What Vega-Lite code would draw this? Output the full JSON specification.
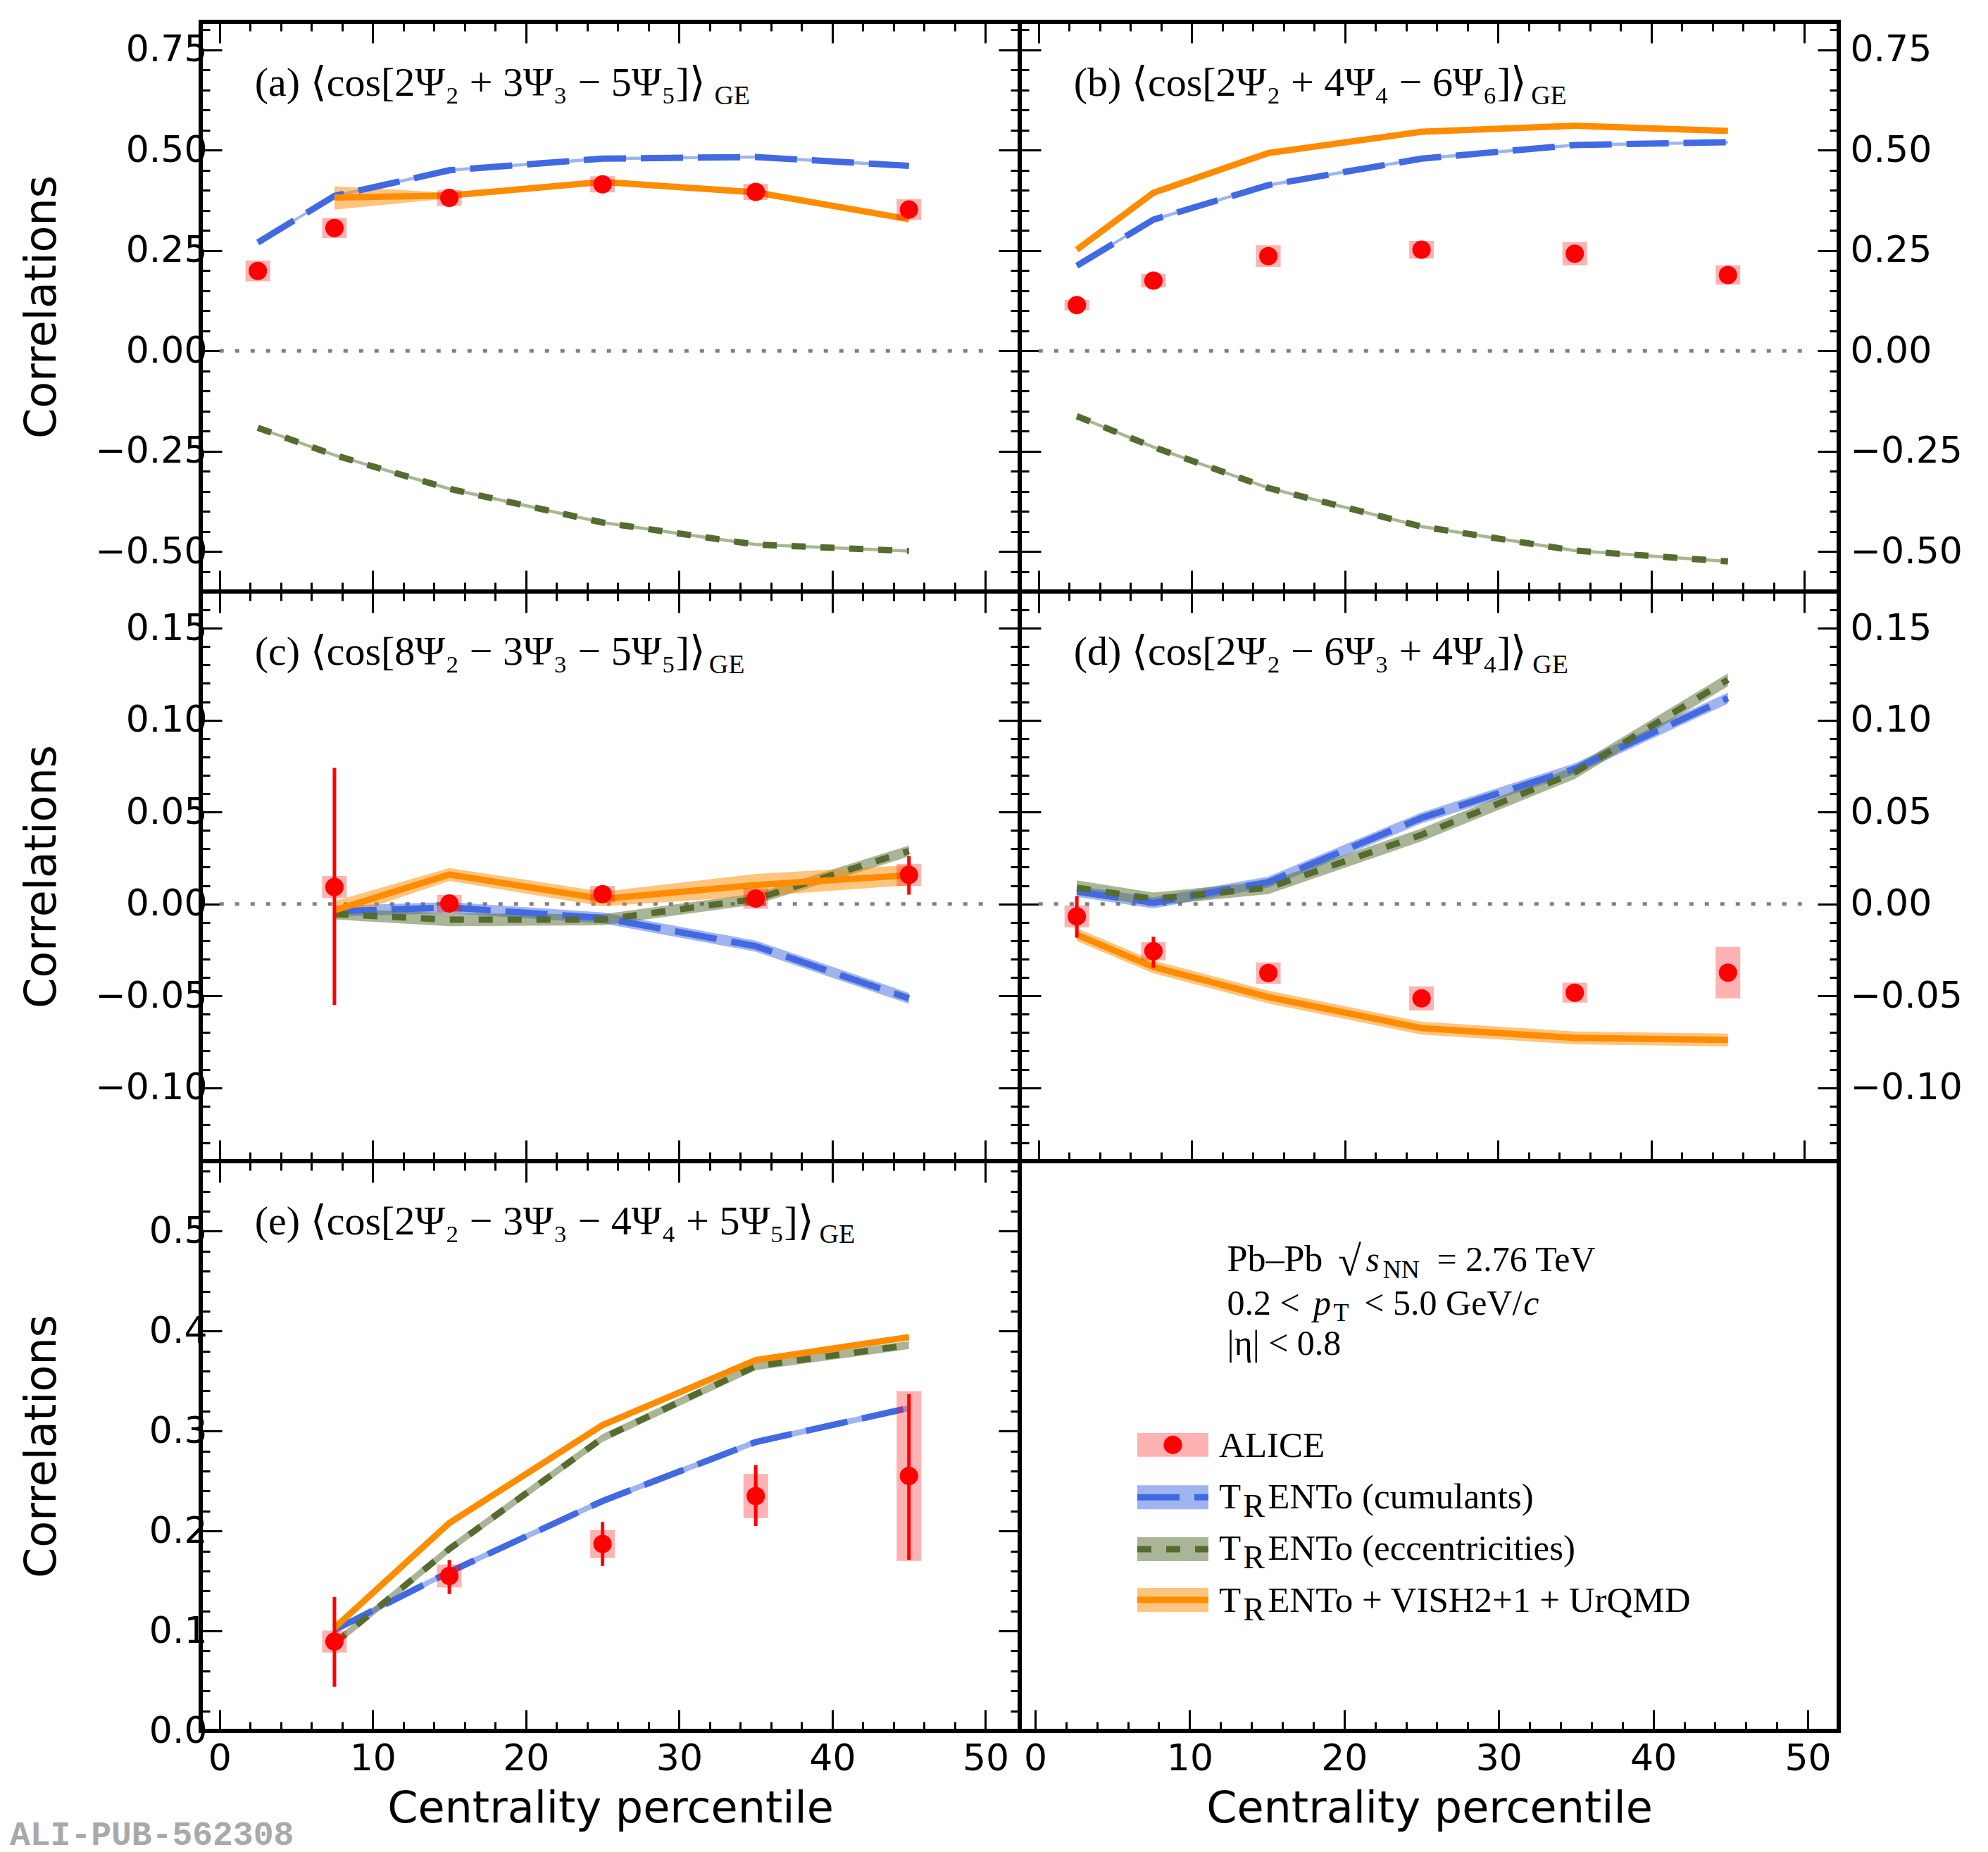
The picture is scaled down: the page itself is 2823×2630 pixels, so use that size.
{
  "$schema": "https://vega.github.io/schema/vega-lite/v6.json",
  "background": "white",
  "padding": {"left": 14, "top": 26, "right": 5, "bottom": 5},
  "title": {"text": "ALI-PUB-562308", "orient": "bottom", "anchor": "start", "font": "Liberation Mono", "fontWeight": "bold", "fontSize": 48, "color": "#a9a9a9", "offset": -20, "dx": -11},
  "datasets": {
    "models": [
      {"p": "a", "m": "cum", "x": 2.5, "y": 0.270, "lo": 0.266, "hi": 0.274},
      {"p": "a", "m": "cum", "x": 7.5, "y": 0.386, "lo": 0.382, "hi": 0.390},
      {"p": "a", "m": "cum", "x": 15, "y": 0.450, "lo": 0.446, "hi": 0.454},
      {"p": "a", "m": "cum", "x": 25, "y": 0.479, "lo": 0.475, "hi": 0.483},
      {"p": "a", "m": "cum", "x": 35, "y": 0.483, "lo": 0.479, "hi": 0.487},
      {"p": "a", "m": "cum", "x": 45, "y": 0.461, "lo": 0.457, "hi": 0.465},
      {"p": "a", "m": "ecc", "x": 2.5, "y": -0.192, "lo": -0.196, "hi": -0.188},
      {"p": "a", "m": "ecc", "x": 7.5, "y": -0.260, "lo": -0.264, "hi": -0.256},
      {"p": "a", "m": "ecc", "x": 15, "y": -0.344, "lo": -0.348, "hi": -0.340},
      {"p": "a", "m": "ecc", "x": 25, "y": -0.428, "lo": -0.432, "hi": -0.424},
      {"p": "a", "m": "ecc", "x": 35, "y": -0.483, "lo": -0.487, "hi": -0.479},
      {"p": "a", "m": "ecc", "x": 45, "y": -0.499, "lo": -0.503, "hi": -0.495},
      {"p": "a", "m": "hyd", "x": 7.5, "y": 0.382, "lo": 0.352, "hi": 0.410},
      {"p": "a", "m": "hyd", "x": 15, "y": 0.387, "lo": 0.380, "hi": 0.394},
      {"p": "a", "m": "hyd", "x": 25, "y": 0.421, "lo": 0.416, "hi": 0.426},
      {"p": "a", "m": "hyd", "x": 35, "y": 0.395, "lo": 0.391, "hi": 0.399},
      {"p": "a", "m": "hyd", "x": 45, "y": 0.328, "lo": 0.323, "hi": 0.333},
      {"p": "b", "m": "cum", "x": 2.5, "y": 0.212, "lo": 0.208, "hi": 0.216},
      {"p": "b", "m": "cum", "x": 7.5, "y": 0.327, "lo": 0.323, "hi": 0.331},
      {"p": "b", "m": "cum", "x": 15, "y": 0.413, "lo": 0.409, "hi": 0.417},
      {"p": "b", "m": "cum", "x": 25, "y": 0.479, "lo": 0.475, "hi": 0.483},
      {"p": "b", "m": "cum", "x": 35, "y": 0.513, "lo": 0.509, "hi": 0.517},
      {"p": "b", "m": "cum", "x": 45, "y": 0.520, "lo": 0.516, "hi": 0.524},
      {"p": "b", "m": "ecc", "x": 2.5, "y": -0.163, "lo": -0.167, "hi": -0.159},
      {"p": "b", "m": "ecc", "x": 7.5, "y": -0.240, "lo": -0.244, "hi": -0.236},
      {"p": "b", "m": "ecc", "x": 15, "y": -0.342, "lo": -0.346, "hi": -0.338},
      {"p": "b", "m": "ecc", "x": 25, "y": -0.438, "lo": -0.442, "hi": -0.434},
      {"p": "b", "m": "ecc", "x": 35, "y": -0.498, "lo": -0.502, "hi": -0.494},
      {"p": "b", "m": "ecc", "x": 45, "y": -0.525, "lo": -0.529, "hi": -0.521},
      {"p": "b", "m": "hyd", "x": 2.5, "y": 0.252, "lo": 0.248, "hi": 0.256},
      {"p": "b", "m": "hyd", "x": 7.5, "y": 0.394, "lo": 0.390, "hi": 0.398},
      {"p": "b", "m": "hyd", "x": 15, "y": 0.493, "lo": 0.489, "hi": 0.497},
      {"p": "b", "m": "hyd", "x": 25, "y": 0.546, "lo": 0.542, "hi": 0.550},
      {"p": "b", "m": "hyd", "x": 35, "y": 0.561, "lo": 0.557, "hi": 0.565},
      {"p": "b", "m": "hyd", "x": 45, "y": 0.548, "lo": 0.544, "hi": 0.552},
      {"p": "c", "m": "cum", "x": 7.5, "y": -0.004, "lo": -0.007, "hi": -0.001},
      {"p": "c", "m": "cum", "x": 15, "y": -0.002, "lo": -0.005, "hi": 0.001},
      {"p": "c", "m": "cum", "x": 25, "y": -0.0076, "lo": -0.0106, "hi": -0.0046},
      {"p": "c", "m": "cum", "x": 35, "y": -0.023, "lo": -0.026, "hi": -0.020},
      {"p": "c", "m": "cum", "x": 45, "y": -0.0514, "lo": -0.0544, "hi": -0.0484},
      {"p": "c", "m": "ecc", "x": 7.5, "y": -0.0055, "lo": -0.0085, "hi": -0.0025},
      {"p": "c", "m": "ecc", "x": 15, "y": -0.0086, "lo": -0.0121, "hi": -0.0051},
      {"p": "c", "m": "ecc", "x": 25, "y": -0.0086, "lo": -0.0116, "hi": -0.0056},
      {"p": "c", "m": "ecc", "x": 35, "y": 0.0027, "lo": -0.0003, "hi": 0.0057},
      {"p": "c", "m": "ecc", "x": 45, "y": 0.0288, "lo": 0.0258, "hi": 0.0318},
      {"p": "c", "m": "hyd", "x": 7.5, "y": -0.0035, "lo": -0.0085, "hi": 0.0015},
      {"p": "c", "m": "hyd", "x": 15, "y": 0.016, "lo": 0.0125, "hi": 0.0195},
      {"p": "c", "m": "hyd", "x": 25, "y": 0.0027, "lo": -0.0013, "hi": 0.0067},
      {"p": "c", "m": "hyd", "x": 35, "y": 0.0103, "lo": 0.0043, "hi": 0.0163},
      {"p": "c", "m": "hyd", "x": 45, "y": 0.0156, "lo": 0.0101, "hi": 0.0211},
      {"p": "d", "m": "cum", "x": 2.5, "y": 0.0068, "lo": 0.0038, "hi": 0.0098},
      {"p": "d", "m": "cum", "x": 7.5, "y": 0.0006, "lo": -0.0024, "hi": 0.0036},
      {"p": "d", "m": "cum", "x": 15, "y": 0.0119, "lo": 0.0089, "hi": 0.0149},
      {"p": "d", "m": "cum", "x": 25, "y": 0.0468, "lo": 0.0438, "hi": 0.0498},
      {"p": "d", "m": "cum", "x": 35, "y": 0.0735, "lo": 0.0705, "hi": 0.0765},
      {"p": "d", "m": "cum", "x": 45, "y": 0.112, "lo": 0.109, "hi": 0.115},
      {"p": "d", "m": "ecc", "x": 2.5, "y": 0.0088, "lo": 0.0048, "hi": 0.0128},
      {"p": "d", "m": "ecc", "x": 7.5, "y": 0.0027, "lo": -0.0008, "hi": 0.0062},
      {"p": "d", "m": "ecc", "x": 15, "y": 0.0088, "lo": 0.0053, "hi": 0.0123},
      {"p": "d", "m": "ecc", "x": 25, "y": 0.0376, "lo": 0.0341, "hi": 0.0411},
      {"p": "d", "m": "ecc", "x": 35, "y": 0.0715, "lo": 0.068, "hi": 0.075},
      {"p": "d", "m": "ecc", "x": 45, "y": 0.122, "lo": 0.1185, "hi": 0.1255},
      {"p": "d", "m": "hyd", "x": 2.5, "y": -0.0168, "lo": -0.0203, "hi": -0.0133},
      {"p": "d", "m": "hyd", "x": 7.5, "y": -0.0343, "lo": -0.0378, "hi": -0.0308},
      {"p": "d", "m": "hyd", "x": 15, "y": -0.0507, "lo": -0.0542, "hi": -0.0472},
      {"p": "d", "m": "hyd", "x": 25, "y": -0.0676, "lo": -0.0711, "hi": -0.0641},
      {"p": "d", "m": "hyd", "x": 35, "y": -0.0729, "lo": -0.0764, "hi": -0.0694},
      {"p": "d", "m": "hyd", "x": 45, "y": -0.074, "lo": -0.0775, "hi": -0.0705},
      {"p": "e", "m": "cum", "x": 7.5, "y": 0.101, "lo": 0.098, "hi": 0.104},
      {"p": "e", "m": "cum", "x": 15, "y": 0.159, "lo": 0.156, "hi": 0.162},
      {"p": "e", "m": "cum", "x": 25, "y": 0.230, "lo": 0.227, "hi": 0.233},
      {"p": "e", "m": "cum", "x": 35, "y": 0.289, "lo": 0.286, "hi": 0.292},
      {"p": "e", "m": "cum", "x": 45, "y": 0.323, "lo": 0.320, "hi": 0.326},
      {"p": "e", "m": "ecc", "x": 7.5, "y": 0.0875, "lo": 0.0835, "hi": 0.0915},
      {"p": "e", "m": "ecc", "x": 15, "y": 0.182, "lo": 0.178, "hi": 0.186},
      {"p": "e", "m": "ecc", "x": 25, "y": 0.293, "lo": 0.289, "hi": 0.297},
      {"p": "e", "m": "ecc", "x": 35, "y": 0.365, "lo": 0.361, "hi": 0.369},
      {"p": "e", "m": "ecc", "x": 45, "y": 0.386, "lo": 0.382, "hi": 0.390},
      {"p": "e", "m": "hyd", "x": 7.5, "y": 0.103, "lo": 0.100, "hi": 0.106},
      {"p": "e", "m": "hyd", "x": 15, "y": 0.208, "lo": 0.205, "hi": 0.211},
      {"p": "e", "m": "hyd", "x": 25, "y": 0.306, "lo": 0.303, "hi": 0.309},
      {"p": "e", "m": "hyd", "x": 35, "y": 0.371, "lo": 0.368, "hi": 0.374},
      {"p": "e", "m": "hyd", "x": 45, "y": 0.394, "lo": 0.391, "hi": 0.397}
    ],
    "alice": [
      {"p": "a", "x": 2.5, "y": 0.199, "slo": 0.195, "shi": 0.203, "ylo": 0.173, "yhi": 0.225},
      {"p": "a", "x": 7.5, "y": 0.306, "slo": 0.302, "shi": 0.310, "ylo": 0.281, "yhi": 0.331},
      {"p": "a", "x": 15, "y": 0.381, "slo": 0.377, "shi": 0.385, "ylo": 0.361, "yhi": 0.401},
      {"p": "a", "x": 25, "y": 0.415, "slo": 0.411, "shi": 0.419, "ylo": 0.395, "yhi": 0.435},
      {"p": "a", "x": 35, "y": 0.396, "slo": 0.392, "shi": 0.400, "ylo": 0.376, "yhi": 0.416},
      {"p": "a", "x": 45, "y": 0.352, "slo": 0.348, "shi": 0.356, "ylo": 0.326, "yhi": 0.378},
      {"p": "b", "x": 2.5, "y": 0.114, "slo": 0.110, "shi": 0.118, "ylo": 0.101, "yhi": 0.127},
      {"p": "b", "x": 7.5, "y": 0.175, "slo": 0.171, "shi": 0.179, "ylo": 0.158, "yhi": 0.192},
      {"p": "b", "x": 15, "y": 0.236, "slo": 0.232, "shi": 0.240, "ylo": 0.209, "yhi": 0.263},
      {"p": "b", "x": 25, "y": 0.252, "slo": 0.248, "shi": 0.256, "ylo": 0.230, "yhi": 0.274},
      {"p": "b", "x": 35, "y": 0.242, "slo": 0.238, "shi": 0.246, "ylo": 0.213, "yhi": 0.271},
      {"p": "b", "x": 45, "y": 0.189, "slo": 0.185, "shi": 0.193, "ylo": 0.165, "yhi": 0.213},
      {"p": "c", "x": 7.5, "y": 0.0092, "slo": -0.055, "shi": 0.074, "ylo": 0.0032, "yhi": 0.0152},
      {"p": "c", "x": 15, "y": 0.0002, "slo": -0.002, "shi": 0.0024, "ylo": -0.0045, "yhi": 0.0049},
      {"p": "c", "x": 25, "y": 0.0053, "slo": 0.0031, "shi": 0.0075, "ylo": 0.0008, "yhi": 0.0098},
      {"p": "c", "x": 35, "y": 0.0029, "slo": 0.0007, "shi": 0.0051, "ylo": -0.0026, "yhi": 0.0084},
      {"p": "c", "x": 45, "y": 0.0158, "slo": 0.005, "shi": 0.026, "ylo": 0.0098, "yhi": 0.0218},
      {"p": "d", "x": 2.5, "y": -0.0068, "slo": -0.0183, "shi": 0.0043, "ylo": -0.0128, "yhi": -0.0008},
      {"p": "d", "x": 7.5, "y": -0.0257, "slo": -0.0347, "shi": -0.0179, "ylo": -0.0307, "yhi": -0.0207},
      {"p": "d", "x": 15, "y": -0.0376, "slo": -0.0396, "shi": -0.0356, "ylo": -0.0434, "yhi": -0.0318},
      {"p": "d", "x": 25, "y": -0.0514, "slo": -0.0534, "shi": -0.0494, "ylo": -0.0579, "yhi": -0.0449},
      {"p": "d", "x": 35, "y": -0.0483, "slo": -0.0503, "shi": -0.0463, "ylo": -0.0537, "yhi": -0.0429},
      {"p": "d", "x": 45, "y": -0.0374, "slo": -0.0394, "shi": -0.0354, "ylo": -0.0514, "yhi": -0.0234},
      {"p": "e", "x": 7.5, "y": 0.0894, "slo": 0.044, "shi": 0.134, "ylo": 0.0784, "yhi": 0.1004},
      {"p": "e", "x": 15, "y": 0.155, "slo": 0.137, "shi": 0.171, "ylo": 0.1435, "yhi": 0.1665},
      {"p": "e", "x": 25, "y": 0.187, "slo": 0.165, "shi": 0.209, "ylo": 0.173, "yhi": 0.201},
      {"p": "e", "x": 35, "y": 0.235, "slo": 0.205, "shi": 0.266, "ylo": 0.213, "yhi": 0.257},
      {"p": "e", "x": 45, "y": 0.255, "slo": 0.171, "shi": 0.337, "ylo": 0.17, "yhi": 0.34}
    ]
  },
  "columns": 2,
  "spacing": 0,
  "bounds": "flush",
  "concat": [
    {
      "width": 1163, "height": 809,
      "resolve": {"axis": {"x": "independent", "y": "independent"}},
      "layer": [
        {
          "data": {"values": [{}]},
          "mark": {"type": "rule", "color": "#808080", "strokeWidth": 5, "strokeDash": [6, 16]},
          "encoding": {
            "x": {"datum": 0, "type": "quantitative", "axis": null, "scale": {"domain": [-1, 52], "nice": false}},
            "x2": {"datum": 50},
            "y": {"datum": 0, "type": "quantitative", "axis": null, "scale": {"domain": [-0.6, 0.82], "nice": false}}
          }
        },
        {
          "data": {"name": "models"},
          "transform": [{"filter": "datum.p === 'a'"}],
          "mark": {"type": "area", "fillOpacity": 0.5},
          "encoding": {
            "x": {"field": "x", "type": "quantitative", "scale": {"domain": [-1, 52], "nice": false}, "axis": {"orient": "bottom", "values": [0, 10, 20, 30, 40, 50], "tickSize": -30, "labels": false, "title": null}},
            "y": {"field": "lo", "type": "quantitative", "scale": {"domain": [-0.6, 0.82], "nice": false}, "axis": {"orient": "left", "values": [-0.5, -0.25, 0, 0.25, 0.5, 0.75], "tickSize": -30, "labelPadding": 21, "format": ".2f", "title": "Correlations", "titleX": -207, "titleBaseline": "alphabetic"}},
            "y2": {"field": "hi"},
            "fill": {"field": "m", "type": "nominal", "scale": {"domain": ["cum", "ecc", "hyd"], "range": ["#4169e1", "#556b2f", "#ff8c00"]}, "legend": null}
          }
        },
        {
          "data": {"name": "models"},
          "transform": [{"filter": "datum.p === 'a'"}],
          "mark": {"type": "line", "strokeWidth": 9},
          "encoding": {
            "x": {"field": "x", "type": "quantitative", "axis": {"orient": "bottom", "values": [0, 2, 4, 6, 8, 10, 12, 14, 16, 18, 20, 22, 24, 26, 28, 30, 32, 34, 36, 38, 40, 42, 44, 46, 48, 50], "tickSize": -13, "labels": false, "title": null}},
            "y": {"field": "y", "type": "quantitative", "axis": {"orient": "left", "values": [-0.55, -0.5, -0.45, -0.4, -0.35, -0.3, -0.25, -0.2, -0.15, -0.1, -0.05, 0, 0.05, 0.1, 0.15, 0.2, 0.25, 0.3, 0.35, 0.4, 0.45, 0.5, 0.55, 0.6, 0.65, 0.7, 0.75, 0.8], "tickSize": -13, "labels": false, "title": null}},
            "stroke": {"field": "m", "type": "nominal", "scale": {"domain": ["cum", "ecc", "hyd"], "range": ["#4169e1", "#556b2f", "#ff8c00"]}, "legend": null},
            "strokeDash": {"field": "m", "type": "nominal", "scale": {"domain": ["cum", "ecc", "hyd"], "range": [[60, 21], [20, 21], [1, 0]]}, "legend": null}
          }
        },
        {
          "data": {"name": "alice"},
          "transform": [{"filter": "datum.p === 'a'"}],
          "mark": {"type": "bar", "width": 35, "color": "#ff0000", "opacity": 0.3},
          "encoding": {
            "x": {"field": "x", "type": "quantitative", "axis": {"orient": "top", "values": [0, 10, 20, 30, 40, 50], "tickSize": -30, "labels": false, "title": null}},
            "y": {"field": "ylo", "type": "quantitative", "axis": {"orient": "right", "values": [-0.5, -0.25, 0, 0.25, 0.5, 0.75], "tickSize": -30, "labels": false, "title": null}},
            "y2": {"field": "yhi"}
          }
        },
        {
          "data": {"name": "alice"},
          "transform": [{"filter": "datum.p === 'a'"}],
          "mark": {"type": "rule", "color": "#ff0000", "strokeWidth": 5},
          "encoding": {
            "x": {"field": "x", "type": "quantitative", "axis": {"orient": "top", "values": [0, 2, 4, 6, 8, 10, 12, 14, 16, 18, 20, 22, 24, 26, 28, 30, 32, 34, 36, 38, 40, 42, 44, 46, 48, 50], "tickSize": -13, "labels": false, "title": null}},
            "y": {"field": "slo", "type": "quantitative", "axis": {"orient": "right", "values": [-0.55, -0.5, -0.45, -0.4, -0.35, -0.3, -0.25, -0.2, -0.15, -0.1, -0.05, 0, 0.05, 0.1, 0.15, 0.2, 0.25, 0.3, 0.35, 0.4, 0.45, 0.5, 0.55, 0.6, 0.65, 0.7, 0.75, 0.8], "tickSize": -13, "labels": false, "title": null}},
            "y2": {"field": "shi"}
          }
        },
        {
          "data": {"name": "alice"},
          "transform": [{"filter": "datum.p === 'a'"}],
          "mark": {"type": "point", "shape": "circle", "filled": true, "size": 680, "color": "#ff0000", "opacity": 1},
          "encoding": {
            "x": {"field": "x", "type": "quantitative", "axis": null},
            "y": {"field": "y", "type": "quantitative", "axis": null}
          }
        },
        {
          "data": {"values": [{}]},
          "mark": {"type": "text", "text": "(a) ⟨cos[2Ψ₂ + 3Ψ₃ − 5Ψ₅]⟩", "font": "Liberation Serif", "fontSize": 58, "align": "left", "baseline": "alphabetic", "color": "black"},
          "encoding": {"x": {"datum": 2.3, "type": "quantitative", "axis": null}, "y": {"datum": 0.636, "type": "quantitative", "axis": null}}
        },
        {
          "data": {"values": [{}]},
          "mark": {"type": "text", "text": "GE", "font": "Liberation Serif", "fontSize": 38, "align": "left", "baseline": "alphabetic", "color": "black"},
          "encoding": {"x": {"datum": 32.3, "type": "quantitative", "axis": null}, "y": {"datum": 0.615, "type": "quantitative", "axis": null}}
        }
      ]
    },
    {
      "width": 1163, "height": 809,
      "resolve": {"axis": {"x": "independent", "y": "independent"}},
      "layer": [
        {
          "data": {"values": [{}]},
          "mark": {"type": "rule", "color": "#808080", "strokeWidth": 5, "strokeDash": [6, 16]},
          "encoding": {
            "x": {"datum": 0, "type": "quantitative", "axis": null, "scale": {"domain": [-1, 52], "nice": false}},
            "x2": {"datum": 50},
            "y": {"datum": 0, "type": "quantitative", "axis": null, "scale": {"domain": [-0.6, 0.82], "nice": false}}
          }
        },
        {
          "data": {"name": "models"},
          "transform": [{"filter": "datum.p === 'b'"}],
          "mark": {"type": "area", "fillOpacity": 0.5},
          "encoding": {
            "x": {"field": "x", "type": "quantitative", "scale": {"domain": [-1, 52], "nice": false}, "axis": {"orient": "bottom", "values": [0, 10, 20, 30, 40, 50], "tickSize": -30, "labels": false, "title": null}},
            "y": {"field": "lo", "type": "quantitative", "scale": {"domain": [-0.6, 0.82], "nice": false}, "axis": {"orient": "left", "values": [-0.5, -0.25, 0, 0.25, 0.5, 0.75], "tickSize": -30, "labels": false, "title": null}},
            "y2": {"field": "hi"},
            "fill": {"field": "m", "type": "nominal", "scale": {"domain": ["cum", "ecc", "hyd"], "range": ["#4169e1", "#556b2f", "#ff8c00"]}, "legend": null}
          }
        },
        {
          "data": {"name": "models"},
          "transform": [{"filter": "datum.p === 'b'"}],
          "mark": {"type": "line", "strokeWidth": 9},
          "encoding": {
            "x": {"field": "x", "type": "quantitative", "axis": {"orient": "bottom", "values": [0, 2, 4, 6, 8, 10, 12, 14, 16, 18, 20, 22, 24, 26, 28, 30, 32, 34, 36, 38, 40, 42, 44, 46, 48, 50], "tickSize": -13, "labels": false, "title": null}},
            "y": {"field": "y", "type": "quantitative", "axis": {"orient": "left", "values": [-0.55, -0.5, -0.45, -0.4, -0.35, -0.3, -0.25, -0.2, -0.15, -0.1, -0.05, 0, 0.05, 0.1, 0.15, 0.2, 0.25, 0.3, 0.35, 0.4, 0.45, 0.5, 0.55, 0.6, 0.65, 0.7, 0.75, 0.8], "tickSize": -13, "labels": false, "title": null}},
            "stroke": {"field": "m", "type": "nominal", "scale": {"domain": ["cum", "ecc", "hyd"], "range": ["#4169e1", "#556b2f", "#ff8c00"]}, "legend": null},
            "strokeDash": {"field": "m", "type": "nominal", "scale": {"domain": ["cum", "ecc", "hyd"], "range": [[60, 21], [20, 21], [1, 0]]}, "legend": null}
          }
        },
        {
          "data": {"name": "alice"},
          "transform": [{"filter": "datum.p === 'b'"}],
          "mark": {"type": "bar", "width": 35, "color": "#ff0000", "opacity": 0.3},
          "encoding": {
            "x": {"field": "x", "type": "quantitative", "axis": {"orient": "top", "values": [0, 10, 20, 30, 40, 50], "tickSize": -30, "labels": false, "title": null}},
            "y": {"field": "ylo", "type": "quantitative", "axis": {"orient": "right", "values": [-0.5, -0.25, 0, 0.25, 0.5, 0.75], "tickSize": -30, "labelPadding": 46, "format": ".2f", "title": null}},
            "y2": {"field": "yhi"}
          }
        },
        {
          "data": {"name": "alice"},
          "transform": [{"filter": "datum.p === 'b'"}],
          "mark": {"type": "rule", "color": "#ff0000", "strokeWidth": 5},
          "encoding": {
            "x": {"field": "x", "type": "quantitative", "axis": {"orient": "top", "values": [0, 2, 4, 6, 8, 10, 12, 14, 16, 18, 20, 22, 24, 26, 28, 30, 32, 34, 36, 38, 40, 42, 44, 46, 48, 50], "tickSize": -13, "labels": false, "title": null}},
            "y": {"field": "slo", "type": "quantitative", "axis": {"orient": "right", "values": [-0.55, -0.5, -0.45, -0.4, -0.35, -0.3, -0.25, -0.2, -0.15, -0.1, -0.05, 0, 0.05, 0.1, 0.15, 0.2, 0.25, 0.3, 0.35, 0.4, 0.45, 0.5, 0.55, 0.6, 0.65, 0.7, 0.75, 0.8], "tickSize": -13, "labels": false, "title": null}},
            "y2": {"field": "shi"}
          }
        },
        {
          "data": {"name": "alice"},
          "transform": [{"filter": "datum.p === 'b'"}],
          "mark": {"type": "point", "shape": "circle", "filled": true, "size": 680, "color": "#ff0000", "opacity": 1},
          "encoding": {
            "x": {"field": "x", "type": "quantitative", "axis": null},
            "y": {"field": "y", "type": "quantitative", "axis": null}
          }
        },
        {
          "data": {"values": [{}]},
          "mark": {"type": "text", "text": "(b) ⟨cos[2Ψ₂ + 4Ψ₄ − 6Ψ₆]⟩", "font": "Liberation Serif", "fontSize": 58, "align": "left", "baseline": "alphabetic", "color": "black"},
          "encoding": {"x": {"datum": 2.3, "type": "quantitative", "axis": null}, "y": {"datum": 0.636, "type": "quantitative", "axis": null}}
        },
        {
          "data": {"values": [{}]},
          "mark": {"type": "text", "text": "GE", "font": "Liberation Serif", "fontSize": 38, "align": "left", "baseline": "alphabetic", "color": "black"},
          "encoding": {"x": {"datum": 32.15, "type": "quantitative", "axis": null}, "y": {"datum": 0.615, "type": "quantitative", "axis": null}}
        }
      ]
    },
    {
      "width": 1163, "height": 809,
      "resolve": {"axis": {"x": "independent", "y": "independent"}},
      "layer": [
        {
          "data": {"values": [{}]},
          "mark": {"type": "rule", "color": "#808080", "strokeWidth": 5, "strokeDash": [6, 16]},
          "encoding": {
            "x": {"datum": 0, "type": "quantitative", "axis": null, "scale": {"domain": [-1, 52], "nice": false}},
            "x2": {"datum": 50},
            "y": {"datum": 0, "type": "quantitative", "axis": null, "scale": {"domain": [-0.14, 0.17], "nice": false}}
          }
        },
        {
          "data": {"name": "models"},
          "transform": [{"filter": "datum.p === 'c'"}],
          "mark": {"type": "area", "fillOpacity": 0.5},
          "encoding": {
            "x": {"field": "x", "type": "quantitative", "scale": {"domain": [-1, 52], "nice": false}, "axis": {"orient": "bottom", "values": [0, 10, 20, 30, 40, 50], "tickSize": -30, "labels": false, "title": null}},
            "y": {"field": "lo", "type": "quantitative", "scale": {"domain": [-0.14, 0.17], "nice": false}, "axis": {"orient": "left", "values": [-0.1, -0.05, 0, 0.05, 0.1, 0.15], "tickSize": -30, "labelPadding": 21, "format": ".2f", "title": "Correlations", "titleX": -207, "titleBaseline": "alphabetic"}},
            "y2": {"field": "hi"},
            "fill": {"field": "m", "type": "nominal", "scale": {"domain": ["cum", "ecc", "hyd"], "range": ["#4169e1", "#556b2f", "#ff8c00"]}, "legend": null}
          }
        },
        {
          "data": {"name": "models"},
          "transform": [{"filter": "datum.p === 'c'"}],
          "mark": {"type": "line", "strokeWidth": 9},
          "encoding": {
            "x": {"field": "x", "type": "quantitative", "axis": {"orient": "bottom", "values": [0, 2, 4, 6, 8, 10, 12, 14, 16, 18, 20, 22, 24, 26, 28, 30, 32, 34, 36, 38, 40, 42, 44, 46, 48, 50], "tickSize": -13, "labels": false, "title": null}},
            "y": {"field": "y", "type": "quantitative", "axis": {"orient": "left", "values": [-0.13, -0.12, -0.11, -0.1, -0.09, -0.08, -0.07, -0.06, -0.05, -0.04, -0.03, -0.02, -0.01, 0, 0.01, 0.02, 0.03, 0.04, 0.05, 0.06, 0.07, 0.08, 0.09, 0.1, 0.11, 0.12, 0.13, 0.14, 0.15, 0.16], "tickSize": -13, "labels": false, "title": null}},
            "stroke": {"field": "m", "type": "nominal", "scale": {"domain": ["cum", "ecc", "hyd"], "range": ["#4169e1", "#556b2f", "#ff8c00"]}, "legend": null},
            "strokeDash": {"field": "m", "type": "nominal", "scale": {"domain": ["cum", "ecc", "hyd"], "range": [[60, 21], [20, 21], [1, 0]]}, "legend": null}
          }
        },
        {
          "data": {"name": "alice"},
          "transform": [{"filter": "datum.p === 'c'"}],
          "mark": {"type": "bar", "width": 35, "color": "#ff0000", "opacity": 0.3},
          "encoding": {
            "x": {"field": "x", "type": "quantitative", "axis": {"orient": "top", "values": [0, 10, 20, 30, 40, 50], "tickSize": -30, "labels": false, "title": null}},
            "y": {"field": "ylo", "type": "quantitative", "axis": {"orient": "right", "values": [-0.1, -0.05, 0, 0.05, 0.1, 0.15], "tickSize": -30, "labels": false, "title": null}},
            "y2": {"field": "yhi"}
          }
        },
        {
          "data": {"name": "alice"},
          "transform": [{"filter": "datum.p === 'c'"}],
          "mark": {"type": "rule", "color": "#ff0000", "strokeWidth": 5},
          "encoding": {
            "x": {"field": "x", "type": "quantitative", "axis": {"orient": "top", "values": [0, 2, 4, 6, 8, 10, 12, 14, 16, 18, 20, 22, 24, 26, 28, 30, 32, 34, 36, 38, 40, 42, 44, 46, 48, 50], "tickSize": -13, "labels": false, "title": null}},
            "y": {"field": "slo", "type": "quantitative", "axis": {"orient": "right", "values": [-0.13, -0.12, -0.11, -0.1, -0.09, -0.08, -0.07, -0.06, -0.05, -0.04, -0.03, -0.02, -0.01, 0, 0.01, 0.02, 0.03, 0.04, 0.05, 0.06, 0.07, 0.08, 0.09, 0.1, 0.11, 0.12, 0.13, 0.14, 0.15, 0.16], "tickSize": -13, "labels": false, "title": null}},
            "y2": {"field": "shi"}
          }
        },
        {
          "data": {"name": "alice"},
          "transform": [{"filter": "datum.p === 'c'"}],
          "mark": {"type": "point", "shape": "circle", "filled": true, "size": 680, "color": "#ff0000", "opacity": 1},
          "encoding": {
            "x": {"field": "x", "type": "quantitative", "axis": null},
            "y": {"field": "y", "type": "quantitative", "axis": null}
          }
        },
        {
          "data": {"values": [{}]},
          "mark": {"type": "text", "text": "(c) ⟨cos[8Ψ₂ − 3Ψ₃ − 5Ψ₅]⟩", "font": "Liberation Serif", "fontSize": 58, "align": "left", "baseline": "alphabetic", "color": "black"},
          "encoding": {"x": {"datum": 2.3, "type": "quantitative", "axis": null}, "y": {"datum": 0.130, "type": "quantitative", "axis": null}}
        },
        {
          "data": {"values": [{}]},
          "mark": {"type": "text", "text": "GE", "font": "Liberation Serif", "fontSize": 38, "align": "left", "baseline": "alphabetic", "color": "black"},
          "encoding": {"x": {"datum": 31.95, "type": "quantitative", "axis": null}, "y": {"datum": 0.1254, "type": "quantitative", "axis": null}}
        }
      ]
    },
    {
      "width": 1163, "height": 809,
      "resolve": {"axis": {"x": "independent", "y": "independent"}},
      "layer": [
        {
          "data": {"values": [{}]},
          "mark": {"type": "rule", "color": "#808080", "strokeWidth": 5, "strokeDash": [6, 16]},
          "encoding": {
            "x": {"datum": 0, "type": "quantitative", "axis": null, "scale": {"domain": [-1, 52], "nice": false}},
            "x2": {"datum": 50},
            "y": {"datum": 0, "type": "quantitative", "axis": null, "scale": {"domain": [-0.14, 0.17], "nice": false}}
          }
        },
        {
          "data": {"name": "models"},
          "transform": [{"filter": "datum.p === 'd'"}],
          "mark": {"type": "area", "fillOpacity": 0.5},
          "encoding": {
            "x": {"field": "x", "type": "quantitative", "scale": {"domain": [-1, 52], "nice": false}, "axis": {"orient": "bottom", "values": [0, 10, 20, 30, 40, 50], "tickSize": -30, "labels": false, "title": null}},
            "y": {"field": "lo", "type": "quantitative", "scale": {"domain": [-0.14, 0.17], "nice": false}, "axis": {"orient": "left", "values": [-0.1, -0.05, 0, 0.05, 0.1, 0.15], "tickSize": -30, "labels": false, "title": null}},
            "y2": {"field": "hi"},
            "fill": {"field": "m", "type": "nominal", "scale": {"domain": ["cum", "ecc", "hyd"], "range": ["#4169e1", "#556b2f", "#ff8c00"]}, "legend": null}
          }
        },
        {
          "data": {"name": "models"},
          "transform": [{"filter": "datum.p === 'd'"}],
          "mark": {"type": "line", "strokeWidth": 9},
          "encoding": {
            "x": {"field": "x", "type": "quantitative", "axis": {"orient": "bottom", "values": [0, 2, 4, 6, 8, 10, 12, 14, 16, 18, 20, 22, 24, 26, 28, 30, 32, 34, 36, 38, 40, 42, 44, 46, 48, 50], "tickSize": -13, "labels": false, "title": null}},
            "y": {"field": "y", "type": "quantitative", "axis": {"orient": "left", "values": [-0.13, -0.12, -0.11, -0.1, -0.09, -0.08, -0.07, -0.06, -0.05, -0.04, -0.03, -0.02, -0.01, 0, 0.01, 0.02, 0.03, 0.04, 0.05, 0.06, 0.07, 0.08, 0.09, 0.1, 0.11, 0.12, 0.13, 0.14, 0.15, 0.16], "tickSize": -13, "labels": false, "title": null}},
            "stroke": {"field": "m", "type": "nominal", "scale": {"domain": ["cum", "ecc", "hyd"], "range": ["#4169e1", "#556b2f", "#ff8c00"]}, "legend": null},
            "strokeDash": {"field": "m", "type": "nominal", "scale": {"domain": ["cum", "ecc", "hyd"], "range": [[60, 21], [20, 21], [1, 0]]}, "legend": null}
          }
        },
        {
          "data": {"name": "alice"},
          "transform": [{"filter": "datum.p === 'd'"}],
          "mark": {"type": "bar", "width": 35, "color": "#ff0000", "opacity": 0.3},
          "encoding": {
            "x": {"field": "x", "type": "quantitative", "axis": {"orient": "top", "values": [0, 10, 20, 30, 40, 50], "tickSize": -30, "labels": false, "title": null}},
            "y": {"field": "ylo", "type": "quantitative", "axis": {"orient": "right", "values": [-0.1, -0.05, 0, 0.05, 0.1, 0.15], "tickSize": -30, "labelPadding": 46, "format": ".2f", "title": null}},
            "y2": {"field": "yhi"}
          }
        },
        {
          "data": {"name": "alice"},
          "transform": [{"filter": "datum.p === 'd'"}],
          "mark": {"type": "rule", "color": "#ff0000", "strokeWidth": 5},
          "encoding": {
            "x": {"field": "x", "type": "quantitative", "axis": {"orient": "top", "values": [0, 2, 4, 6, 8, 10, 12, 14, 16, 18, 20, 22, 24, 26, 28, 30, 32, 34, 36, 38, 40, 42, 44, 46, 48, 50], "tickSize": -13, "labels": false, "title": null}},
            "y": {"field": "slo", "type": "quantitative", "axis": {"orient": "right", "values": [-0.13, -0.12, -0.11, -0.1, -0.09, -0.08, -0.07, -0.06, -0.05, -0.04, -0.03, -0.02, -0.01, 0, 0.01, 0.02, 0.03, 0.04, 0.05, 0.06, 0.07, 0.08, 0.09, 0.1, 0.11, 0.12, 0.13, 0.14, 0.15, 0.16], "tickSize": -13, "labels": false, "title": null}},
            "y2": {"field": "shi"}
          }
        },
        {
          "data": {"name": "alice"},
          "transform": [{"filter": "datum.p === 'd'"}],
          "mark": {"type": "point", "shape": "circle", "filled": true, "size": 680, "color": "#ff0000", "opacity": 1},
          "encoding": {
            "x": {"field": "x", "type": "quantitative", "axis": null},
            "y": {"field": "y", "type": "quantitative", "axis": null}
          }
        },
        {
          "data": {"values": [{}]},
          "mark": {"type": "text", "text": "(d) ⟨cos[2Ψ₂ − 6Ψ₃ + 4Ψ₄]⟩", "font": "Liberation Serif", "fontSize": 58, "align": "left", "baseline": "alphabetic", "color": "black"},
          "encoding": {"x": {"datum": 2.3, "type": "quantitative", "axis": null}, "y": {"datum": 0.130, "type": "quantitative", "axis": null}}
        },
        {
          "data": {"values": [{}]},
          "mark": {"type": "text", "text": "GE", "font": "Liberation Serif", "fontSize": 38, "align": "left", "baseline": "alphabetic", "color": "black"},
          "encoding": {"x": {"datum": 32.25, "type": "quantitative", "axis": null}, "y": {"datum": 0.1254, "type": "quantitative", "axis": null}}
        }
      ]
    },
    {
      "width": 1163, "height": 809,
      "resolve": {"axis": {"x": "independent", "y": "independent"}},
      "layer": [
        {
          "data": {"name": "models"},
          "transform": [{"filter": "datum.p === 'e'"}],
          "mark": {"type": "area", "fillOpacity": 0.5},
          "encoding": {
            "x": {"field": "x", "type": "quantitative", "scale": {"domain": [-1, 52], "nice": false}, "axis": {"orient": "bottom", "values": [0, 10, 20, 30, 40, 50], "tickSize": -30, "labelPadding": 44, "format": "d", "title": "Centrality percentile", "titlePadding": 15}},
            "y": {"field": "lo", "type": "quantitative", "scale": {"domain": [0, 0.57], "nice": false}, "axis": {"orient": "left", "values": [0, 0.1, 0.2, 0.3, 0.4, 0.5], "tickSize": -30, "labelPadding": 21, "format": ".1f", "title": "Correlations", "titleX": -207, "titleBaseline": "alphabetic"}},
            "y2": {"field": "hi"},
            "fill": {"field": "m", "type": "nominal", "scale": {"domain": ["cum", "ecc", "hyd"], "range": ["#4169e1", "#556b2f", "#ff8c00"]}, "legend": null}
          }
        },
        {
          "data": {"name": "models"},
          "transform": [{"filter": "datum.p === 'e'"}],
          "mark": {"type": "line", "strokeWidth": 9},
          "encoding": {
            "x": {"field": "x", "type": "quantitative", "axis": {"orient": "bottom", "values": [0, 2, 4, 6, 8, 10, 12, 14, 16, 18, 20, 22, 24, 26, 28, 30, 32, 34, 36, 38, 40, 42, 44, 46, 48, 50], "tickSize": -13, "labels": false, "title": null}},
            "y": {"field": "y", "type": "quantitative", "axis": {"orient": "left", "values": [0.02, 0.04, 0.06, 0.08, 0.1, 0.12, 0.14, 0.16, 0.18, 0.2, 0.22, 0.24, 0.26, 0.28, 0.3, 0.32, 0.34, 0.36, 0.38, 0.4, 0.42, 0.44, 0.46, 0.48, 0.5, 0.52, 0.54, 0.56], "tickSize": -13, "labels": false, "title": null}},
            "stroke": {"field": "m", "type": "nominal", "scale": {"domain": ["cum", "ecc", "hyd"], "range": ["#4169e1", "#556b2f", "#ff8c00"]}, "legend": null},
            "strokeDash": {"field": "m", "type": "nominal", "scale": {"domain": ["cum", "ecc", "hyd"], "range": [[60, 21], [20, 21], [1, 0]]}, "legend": null}
          }
        },
        {
          "data": {"name": "alice"},
          "transform": [{"filter": "datum.p === 'e'"}],
          "mark": {"type": "bar", "width": 35, "color": "#ff0000", "opacity": 0.3},
          "encoding": {
            "x": {"field": "x", "type": "quantitative", "axis": {"orient": "top", "values": [0, 10, 20, 30, 40, 50], "tickSize": -30, "labels": false, "title": null}},
            "y": {"field": "ylo", "type": "quantitative", "axis": {"orient": "right", "values": [0, 0.1, 0.2, 0.3, 0.4, 0.5], "tickSize": -30, "labels": false, "title": null}},
            "y2": {"field": "yhi"}
          }
        },
        {
          "data": {"name": "alice"},
          "transform": [{"filter": "datum.p === 'e'"}],
          "mark": {"type": "rule", "color": "#ff0000", "strokeWidth": 5},
          "encoding": {
            "x": {"field": "x", "type": "quantitative", "axis": {"orient": "top", "values": [0, 2, 4, 6, 8, 10, 12, 14, 16, 18, 20, 22, 24, 26, 28, 30, 32, 34, 36, 38, 40, 42, 44, 46, 48, 50], "tickSize": -13, "labels": false, "title": null}},
            "y": {"field": "slo", "type": "quantitative", "axis": {"orient": "right", "values": [0.02, 0.04, 0.06, 0.08, 0.1, 0.12, 0.14, 0.16, 0.18, 0.2, 0.22, 0.24, 0.26, 0.28, 0.3, 0.32, 0.34, 0.36, 0.38, 0.4, 0.42, 0.44, 0.46, 0.48, 0.5, 0.52, 0.54, 0.56], "tickSize": -13, "labels": false, "title": null}},
            "y2": {"field": "shi"}
          }
        },
        {
          "data": {"name": "alice"},
          "transform": [{"filter": "datum.p === 'e'"}],
          "mark": {"type": "point", "shape": "circle", "filled": true, "size": 680, "color": "#ff0000", "opacity": 1},
          "encoding": {
            "x": {"field": "x", "type": "quantitative", "axis": null},
            "y": {"field": "y", "type": "quantitative", "axis": null}
          }
        },
        {
          "data": {"values": [{}]},
          "mark": {"type": "text", "text": "(e) ⟨cos[2Ψ₂ − 3Ψ₃ − 4Ψ₄ + 5Ψ₅]⟩", "font": "Liberation Serif", "fontSize": 58, "align": "left", "baseline": "alphabetic", "color": "black"},
          "encoding": {"x": {"datum": 2.3, "type": "quantitative", "axis": null}, "y": {"datum": 0.497, "type": "quantitative", "axis": null}}
        },
        {
          "data": {"values": [{}]},
          "mark": {"type": "text", "text": "GE", "font": "Liberation Serif", "fontSize": 38, "align": "left", "baseline": "alphabetic", "color": "black"},
          "encoding": {"x": {"datum": 39.15, "type": "quantitative", "axis": null}, "y": {"datum": 0.4885, "type": "quantitative", "axis": null}}
        }
      ]
    },
    {
      "width": 1163, "height": 809,
      "resolve": {"axis": {"x": "independent", "y": "independent"}},
      "data": {"values": [{}]},
      "layer": [
        {
          "mark": {"type": "rect", "color": "#ff0000", "opacity": 0.3},
          "encoding": {
            "x": {"datum": 6.61, "type": "quantitative", "scale": {"domain": [-1, 52], "nice": false}, "axis": {"orient": "bottom", "values": [0, 10, 20, 30, 40, 50], "tickSize": -30, "labelPadding": 44, "format": "d", "title": "Centrality percentile", "titlePadding": 15}},
            "x2": {"datum": 11.21},
            "y": {"datum": 0.481, "type": "quantitative", "scale": {"domain": [0, 1], "nice": false}, "axis": null},
            "y2": {"datum": 0.523}
          }
        },
        {
          "mark": {"type": "rect", "color": "#4169e1", "opacity": 0.5},
          "encoding": {
            "x": {"datum": 6.61, "type": "quantitative", "axis": {"orient": "bottom", "values": [0, 2, 4, 6, 8, 10, 12, 14, 16, 18, 20, 22, 24, 26, 28, 30, 32, 34, 36, 38, 40, 42, 44, 46, 48, 50], "tickSize": -13, "labels": false, "title": null}},
            "x2": {"datum": 11.21},
            "y": {"datum": 0.389, "type": "quantitative", "axis": null},
            "y2": {"datum": 0.431}
          }
        },
        {
          "mark": {"type": "rect", "color": "#556b2f", "opacity": 0.5},
          "encoding": {
            "x": {"datum": 6.61, "type": "quantitative", "axis": null},
            "x2": {"datum": 11.21},
            "y": {"datum": 0.298, "type": "quantitative", "axis": null},
            "y2": {"datum": 0.340}
          }
        },
        {
          "mark": {"type": "rect", "color": "#ff8c00", "opacity": 0.5},
          "encoding": {
            "x": {"datum": 6.61, "type": "quantitative", "axis": null},
            "x2": {"datum": 11.21},
            "y": {"datum": 0.209, "type": "quantitative", "axis": null},
            "y2": {"datum": 0.251}
          }
        },
        {
          "mark": {"type": "rule", "color": "#4169e1", "strokeWidth": 9, "strokeDash": [60, 21]},
          "encoding": {
            "x": {"datum": 6.61, "type": "quantitative", "axis": null},
            "x2": {"datum": 11.21},
            "y": {"datum": 0.410, "type": "quantitative", "axis": null}
          }
        },
        {
          "mark": {"type": "rule", "color": "#556b2f", "strokeWidth": 9, "strokeDash": [20, 21]},
          "encoding": {
            "x": {"datum": 6.61, "type": "quantitative", "axis": null},
            "x2": {"datum": 11.21},
            "y": {"datum": 0.319, "type": "quantitative", "axis": null}
          }
        },
        {
          "mark": {"type": "rule", "color": "#ff8c00", "strokeWidth": 9},
          "encoding": {
            "x": {"datum": 6.61, "type": "quantitative", "axis": null},
            "x2": {"datum": 11.21},
            "y": {"datum": 0.230, "type": "quantitative", "axis": null}
          }
        },
        {
          "mark": {"type": "point", "shape": "circle", "filled": true, "size": 680, "color": "#ff0000", "opacity": 1},
          "encoding": {
            "x": {"datum": 8.91, "type": "quantitative", "axis": null},
            "y": {"datum": 0.502, "type": "quantitative", "axis": null}
          }
        },
        {
          "mark": {"type": "text", "text": "Pb–Pb", "font": "Liberation Serif", "fontSize": 52, "align": "left", "baseline": "alphabetic", "color": "black"},
          "encoding": {"x": {"datum": 12.42, "type": "quantitative", "axis": null}, "y": {"datum": 0.807, "type": "quantitative", "axis": null}}
        },
        {
          "mark": {"type": "text", "text": "√", "font": "Liberation Serif", "fontSize": 60, "align": "left", "baseline": "alphabetic", "color": "black"},
          "encoding": {"x": {"datum": 19.6, "type": "quantitative", "axis": null}, "y": {"datum": 0.800, "type": "quantitative", "axis": null}}
        },
        {
          "mark": {"type": "text", "text": "s", "font": "Liberation Serif", "fontStyle": "italic", "fontSize": 50, "align": "left", "baseline": "alphabetic", "color": "black"},
          "encoding": {"x": {"datum": 21.4, "type": "quantitative", "axis": null}, "y": {"datum": 0.807, "type": "quantitative", "axis": null}}
        },
        {
          "mark": {"type": "text", "text": "NN", "font": "Liberation Serif", "fontSize": 36, "align": "left", "baseline": "alphabetic", "color": "black"},
          "encoding": {"x": {"datum": 22.5, "type": "quantitative", "axis": null}, "y": {"datum": 0.795, "type": "quantitative", "axis": null}}
        },
        {
          "mark": {"type": "text", "text": "= 2.76 TeV", "font": "Liberation Serif", "fontSize": 50, "align": "left", "baseline": "alphabetic", "color": "black"},
          "encoding": {"x": {"datum": 26.0, "type": "quantitative", "axis": null}, "y": {"datum": 0.807, "type": "quantitative", "axis": null}}
        },
        {
          "mark": {"type": "text", "text": "0.2 <", "font": "Liberation Serif", "fontSize": 50, "align": "left", "baseline": "alphabetic", "color": "black"},
          "encoding": {"x": {"datum": 12.42, "type": "quantitative", "axis": null}, "y": {"datum": 0.731, "type": "quantitative", "axis": null}}
        },
        {
          "mark": {"type": "text", "text": "p", "font": "Liberation Serif", "fontStyle": "italic", "fontSize": 50, "align": "left", "baseline": "alphabetic", "color": "black"},
          "encoding": {"x": {"datum": 18.0, "type": "quantitative", "axis": null}, "y": {"datum": 0.731, "type": "quantitative", "axis": null}}
        },
        {
          "mark": {"type": "text", "text": "T", "font": "Liberation Serif", "fontSize": 36, "align": "left", "baseline": "alphabetic", "color": "black"},
          "encoding": {"x": {"datum": 19.3, "type": "quantitative", "axis": null}, "y": {"datum": 0.719, "type": "quantitative", "axis": null}}
        },
        {
          "mark": {"type": "text", "text": "< 5.0 GeV/", "font": "Liberation Serif", "fontSize": 50, "align": "left", "baseline": "alphabetic", "color": "black"},
          "encoding": {"x": {"datum": 21.3, "type": "quantitative", "axis": null}, "y": {"datum": 0.731, "type": "quantitative", "axis": null}}
        },
        {
          "mark": {"type": "text", "text": "c", "font": "Liberation Serif", "fontStyle": "italic", "fontSize": 50, "align": "left", "baseline": "alphabetic", "color": "black"},
          "encoding": {"x": {"datum": 31.6, "type": "quantitative", "axis": null}, "y": {"datum": 0.731, "type": "quantitative", "axis": null}}
        },
        {
          "mark": {"type": "text", "text": "|η| < 0.8", "font": "Liberation Serif", "fontSize": 50, "align": "left", "baseline": "alphabetic", "color": "black"},
          "encoding": {"x": {"datum": 12.42, "type": "quantitative", "axis": null}, "y": {"datum": 0.660, "type": "quantitative", "axis": null}}
        },
        {
          "mark": {"type": "text", "text": "ALICE", "font": "Liberation Serif", "fontSize": 51, "align": "left", "baseline": "alphabetic", "color": "black"},
          "encoding": {"x": {"datum": 11.9, "type": "quantitative", "axis": null}, "y": {"datum": 0.481, "type": "quantitative", "axis": null}}
        },
        {
          "mark": {"type": "text", "text": ["T", "T", "T"], "lineHeight": 73.5, "font": "Liberation Serif", "fontSize": 51, "align": "left", "baseline": "alphabetic", "color": "black"},
          "encoding": {"x": {"datum": 11.9, "type": "quantitative", "axis": null}, "y": {"datum": 0.391, "type": "quantitative", "axis": null}}
        },
        {
          "mark": {"type": "text", "text": ["R", "R", "R"], "lineHeight": 73.5, "font": "Liberation Serif", "fontSize": 46, "align": "left", "baseline": "alphabetic", "color": "black"},
          "encoding": {"x": {"datum": 13.46, "type": "quantitative", "axis": null}, "y": {"datum": 0.376, "type": "quantitative", "axis": null}}
        },
        {
          "mark": {"type": "text", "text": ["ENTo (cumulants)", "ENTo (eccentricities)", "ENTo + VISH2+1 + UrQMD"], "lineHeight": 73.5, "font": "Liberation Serif", "fontSize": 51, "align": "left", "baseline": "alphabetic", "color": "black"},
          "encoding": {"x": {"datum": 15.05, "type": "quantitative", "axis": null}, "y": {"datum": 0.391, "type": "quantitative", "axis": null}}
        }
      ]
    }
  ],
  "config": {
    "view": {"stroke": "black", "strokeWidth": 6},
    "axis": {
      "domain": false,
      "grid": false,
      "ticks": true,
      "tickColor": "black",
      "tickWidth": 3,
      "labelFont": "DejaVu Sans",
      "labelFontSize": 52,
      "labelColor": "black",
      "labelFlush": false,
      "labelOverlap": false,
      "titleFont": "DejaVu Sans",
      "titleFontSize": 62,
      "titleFontWeight": "normal",
      "titleColor": "black"
    }
  }
}
